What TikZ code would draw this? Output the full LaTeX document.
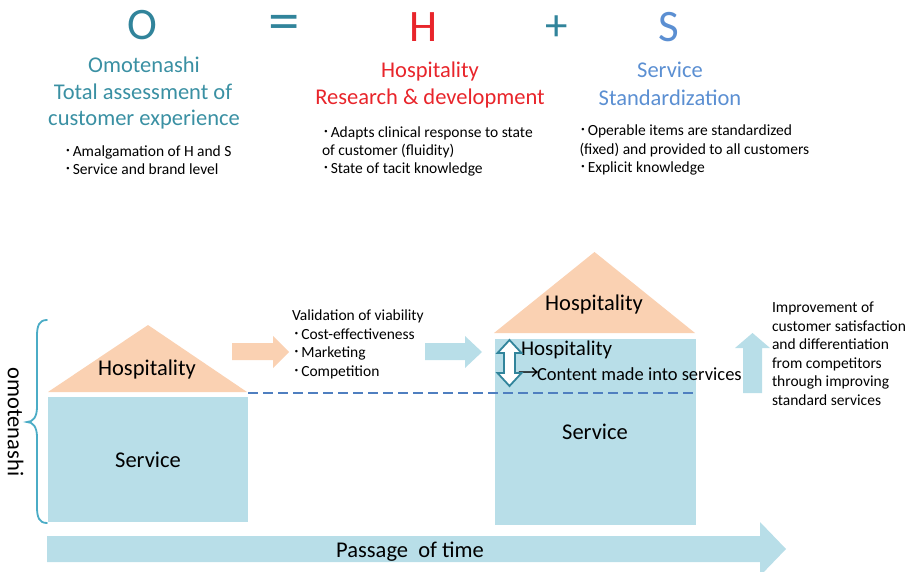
\documentclass[tikz,border=0pt]{standalone}
\usepackage{fontspec}
\setmainfont{Carlito}
\newfontfamily\cjk{Noto Sans CJK JP}

\definecolor{tealdark}{HTML}{31849B}
\definecolor{tealtitle}{HTML}{3A90A3}
\definecolor{redtxt}{HTML}{E8252B}
\definecolor{bluetxt}{HTML}{5B8FD2}
\definecolor{peach}{HTML}{FAD1B2}
\definecolor{paleblue}{HTML}{B8DEE8}
\definecolor{braceblue}{HTML}{4BACC6}
\definecolor{dashblue}{HTML}{4F7FC0}

% halfwidth katakana middle dot used as a list bullet
\newcommand\mybul{{\cjk ･}\kern1pt}

\begin{document}
\begin{tikzpicture}[x=1pt,y=-1pt,
  every node/.style={inner sep=0pt, outer sep=0pt},
  letter/.style={font=\fontsize{45}{50}\selectfont, anchor=base},
  title/.style={font=\fontsize{22.5}{27}\selectfont, anchor=base},
  small/.style={font=\fontsize{15.5}{18}\selectfont, anchor=base west},
  label/.style={font=\fontsize{22.5}{27}\selectfont, anchor=base},
  peachfill/.style={fill=peach},
  bluefill/.style={fill=paleblue},
]
\useasboundingbox (0,0) rectangle (915,572);

% ---- formula O = H + S
\node[letter, tealdark] (bigO) at (142.5,39.5) {O};
\node[font=\fontsize{45}{50}\selectfont, tealdark] (eq) at (284,27.5) {\scalebox{1.4}[1.3]{=}};
\node[letter, redtxt] (bigH) at (424,41.5) {H};
\node[letter, tealdark] (plus) at (557,28) [anchor=center] {+};
\node[letter, bluetxt] (bigS) at (669,41.5) {S};

% ---- titles
\node[title, tealtitle] (tO1) at (144,73) {Omotenashi};
\node[title, tealtitle] (tO2) at (143,99.5) {Total assessment of};
\node[title, tealtitle] (tO3) at (144,125.5) {customer experience};

\node[title, redtxt] (tH1) at (430,77.5) {Hospitality};
\node[title, redtxt] (tH2) at (430,105) {Research \& development};

\node[title, bluetxt] (tS1) at (670,77.5) {Service};
\node[title, bluetxt] (tS2) at (670,106) {Standardization};

% ---- descriptions
\node[small] (dO1) at (64,157) {\mybul Amalgamation of H and S};
\node[small] (dO2) at (64,175) {\mybul Service and brand level};

\node[small] (dH1) at (322,137.5) {\mybul Adapts clinical response to state};
\node[small] (dH2) at (322,155.5) {of customer (fluidity)};
\node[small] (dH3) at (322,174) {\mybul State of tacit knowledge};

\node[small] (dS1) at (579,136) {\mybul Operable items are standardized};
\node[small] (dS2) at (579.5,154.5) {(fixed) and provided to all customers};
\node[small] (dS3) at (579,172.5) {\mybul Explicit knowledge};

% ---- brace and side label
\draw[braceblue, line width=1.8pt, line cap=round]
  (47,320) .. controls (39,320) and (37,326) .. (37,336) -- (37,407)
  .. controls (37,417) and (33,422) .. (27,422)
  .. controls (33,422) and (37,427) .. (37,437) -- (37,507)
  .. controls (37,517) and (39,523) .. (47,523);
\node[font=\fontsize{22.5}{27}\selectfont, rotate=-90, anchor=base] (side) at (8,422) {omotenashi};

% ---- first house
\fill[peachfill] (48,392) -- (148,325) -- (247,392) -- cycle;
\fill[bluefill] (48,397) rectangle (248,522);
\node[label] (hosp1) at (147,375) {Hospitality};
\node[label] (serv1) at (148,467.5) {Service};

% ---- block arrows between the houses
\fill[peachfill] (232,343) -- (273,343) -- (273,336) -- (289,352) -- (273,368) -- (273,360) -- (232,360) -- cycle;
\fill[bluefill] (425,343) -- (465,343) -- (465,336) -- (482,352) -- (465,368) -- (465,360) -- (425,360) -- cycle;

\node[small] (val0) at (292,320.5) {Validation of viability};
\node[small] (val1) at (292.5,339.5) {\mybul Cost-effectiveness};
\node[small] (val2) at (292.5,357.5) {\mybul Marketing};
\node[small] (val3) at (292.5,376.5) {\mybul Competition};

% ---- second house
\fill[peachfill] (494,333) -- (594.5,252) -- (695,333) -- cycle;
\fill[bluefill] (495,339) rectangle (696,525);
\node[label] (hosp2) at (594,310) {Hospitality};
\node[font=\fontsize{21}{25}\selectfont, anchor=base west] (hosp3) at (521,355) {Hospitality};
\node[font=\fontsize{18.5}{22}\selectfont, anchor=base west] (cont) at (518,380.5) {{\cjk\fontsize{21}{22}\selectfont →}\kern-2pt Content made into services};
\node[label] (serv2) at (595,439.3) {Service};

% double-headed arrow marking the converted part
\filldraw[draw=tealdark, fill=white, line width=1.8pt, line join=miter]
  (509.5,340) -- (521.5,353) -- (515,353) -- (515,373) -- (521.5,373) -- (509.5,386)
  -- (497.5,373) -- (504,373) -- (504,353) -- (497.5,353) -- cycle;

% former level of service
\coordinate (dashL) at (248,393);
\coordinate (dashR) at (695,393);
\draw[dashblue, line width=2pt, dash pattern=on 10pt off 5pt] (dashL) -- (dashR);

% ---- improvement arrow and text
\fill[bluefill] (752.5,333) -- (770,348) -- (762,348) -- (762,393) -- (743,393) -- (743,348) -- (735,348) -- cycle;
\node[small] (imp1) at (772,312.5) {Improvement of};
\node[small] (imp2) at (772,331) {customer satisfaction};
\node[small] (imp3) at (772,349.5) {and differentiation};
\node[small] (imp4) at (772,368) {from competitors};
\node[small] (imp5) at (772,386.5) {through improving};
\node[small] (imp6) at (772,405.5) {standard services};

% ---- time axis
\fill[bluefill] (47,536) -- (760,536) -- (760,522) -- (786,549) -- (760,576) -- (760,562) -- (47,562) -- cycle;
\node[label] (time) at (410,557.3) {Passage\ \ of time};
\end{tikzpicture}
\end{document}
